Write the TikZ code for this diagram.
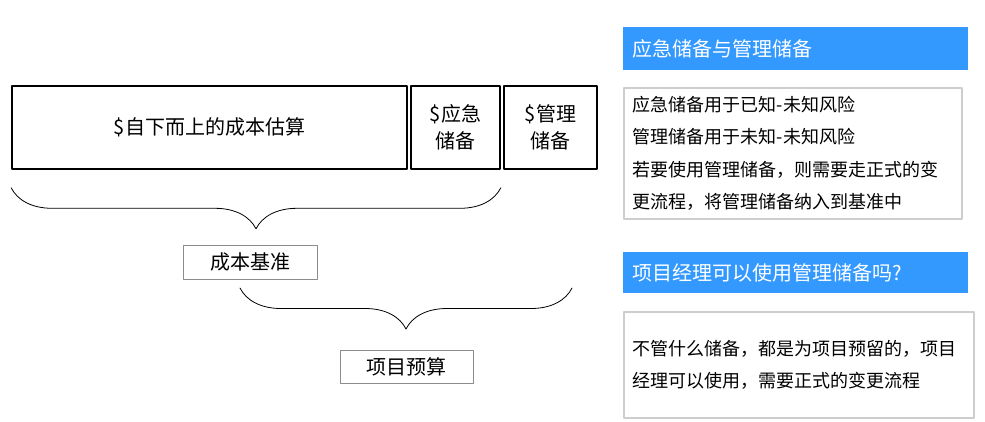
\documentclass[tikz,border=0pt]{standalone}
\usepackage{fontspec}
\setmainfont{Noto Sans CJK SC}
\usetikzlibrary{decorations.pathreplacing}
\definecolor{headblue}{RGB}{51,153,255}
\definecolor{framegray}{RGB}{205,205,205}
\definecolor{boxgray}{RGB}{140,140,140}

\begin{document}
\begin{tikzpicture}[x=1pt,y=-1pt,line cap=round,line join=round,
    costbox/.style={draw,line width=1.6pt,minimum height=83pt,align=center,
        font=\fontsize{20}{27}\selectfont},
    sumbox/.style={draw=boxgray,line width=0.8pt,minimum height=34pt,
        minimum width=134pt,font=\fontsize{20}{24}\selectfont},
    headbar/.style={fill=headblue,text=white,anchor=west,inner xsep=9pt,
        text width=327pt,align=left,font=\fontsize{20}{24}\selectfont},
    notebox/.style={draw=framegray,line width=1.6pt,anchor=west,inner xsep=9pt,
        align=left,font=\fontsize{18}{32.5}\selectfont},
    curly/.style={decorate,decoration={brace,mirror,amplitude=41pt},line width=0.8pt}]
        \useasboundingbox (0,0) rectangle (985,422);

        % cost estimate and reserves
        \node[costbox,minimum width=395pt] (est) at (209.5,127.5) {\$自下而上的成本估算};
        \node[costbox,minimum width=89pt] (cont) at (455.5,127.5) {\$应急\\储备};
        \node[costbox,minimum width=93pt] (mgmt) at (550.5,127.5) {\$管理\\储备};

        \draw[curly] ([yshift=-18pt]est.south west) -- ([yshift=-18pt]cont.south east);
        \node[sumbox] (base) at (250,262) {成本基准};

        \draw[curly] (240,288) -- (572,288);
        \node[sumbox,minimum width=133pt,minimum height=33pt] (budget) at (406.5,366.5) {项目预算};

        % notes on the right
        \node[headbar,minimum height=43pt] (h1) at (623,48.5) {应急储备与管理储备};
        \node[notebox,text width=320pt,minimum height=131pt] (n1) at (623,153.5)
            {应急储备用于已知-未知风险\\管理储备用于未知-未知风险\\若要使用管理储备，则需要走正式的变\\更流程，将管理储备纳入到基准中};

        \node[headbar,minimum height=41pt] (h2) at (623,272.5) {项目经理可以使用管理储备吗?};
        \node[notebox,text width=332pt,minimum height=106pt] (n2) at (623,365)
            {不管什么储备，都是为项目预留的，项目\\经理可以使用，需要正式的变更流程};
    \end{tikzpicture}
\end{document}
